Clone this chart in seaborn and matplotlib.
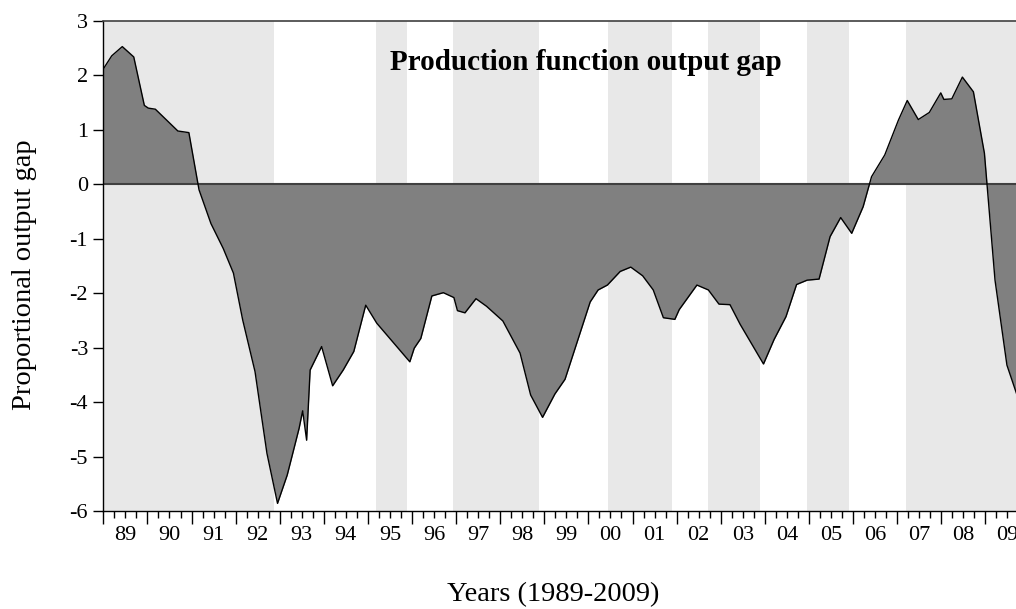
import matplotlib
matplotlib.use("Agg")
import matplotlib.pyplot as plt
import seaborn as sns
import pandas as pd
from matplotlib.ticker import MultipleLocator, FuncFormatter

# Output gap (decimal year, proportional gap)
dates = [1989.00, 1989.19, 1989.43, 1989.69, 1989.93, 1990.02, 1990.18, 1990.69,
         1990.94, 1991.17, 1991.44, 1991.72, 1991.95, 1992.16, 1992.44, 1992.71,
         1992.95, 1993.17, 1993.44, 1993.52, 1993.61, 1993.69, 1993.95, 1994.20,
         1994.44, 1994.68, 1994.95, 1995.20, 1995.95, 1996.05, 1996.20, 1996.45,
         1996.71, 1996.95, 1997.03, 1997.20, 1997.45, 1997.69, 1998.06, 1998.45,
         1998.69, 1998.96, 1999.24, 1999.47, 2000.04, 2000.22, 2000.43, 2000.72,
         2000.96, 2001.23, 2001.47, 2001.70, 2001.96, 2002.06, 2002.46, 2002.72,
         2002.96, 2003.21, 2003.44, 2003.97, 2004.21, 2004.48, 2004.72, 2004.96,
         2005.23, 2005.48, 2005.72, 2005.97, 2006.23, 2006.42, 2006.72, 2007.03,
         2007.23, 2007.48, 2007.73, 2007.99, 2008.06, 2008.24, 2008.48, 2008.73,
         2008.98, 2009.22, 2009.49, 2009.74]
gap = [2.12, 2.36, 2.53, 2.34, 1.45, 1.40, 1.38, 0.98,
       0.95, -0.10, -0.72, -1.18, -1.63, -2.49, -3.44, -4.94,
       -5.86, -5.34, -4.48, -4.16, -4.70, -3.41, -2.98, -3.70,
       -3.41, -3.07, -2.22, -2.55, -3.26, -3.01, -2.83, -2.05,
       -1.99, -2.08, -2.32, -2.36, -2.10, -2.24, -2.51, -3.10,
       -3.87, -4.28, -3.85, -3.58, -2.16, -1.94, -1.85, -1.60,
       -1.52, -1.68, -1.94, -2.45, -2.48, -2.30, -1.85, -1.94,
       -2.20, -2.21, -2.57, -3.30, -2.85, -2.43, -1.84, -1.76,
       -1.74, -0.96, -0.61, -0.90, -0.41, 0.14, 0.54, 1.18,
       1.54, 1.19, 1.32, 1.68, 1.56, 1.57, 1.97, 1.70,
       0.57, -1.76, -3.32, -3.92]

# shaded periods (start, end)
band_start = [1989.00, 1995.18, 1996.94, 2000.44, 2002.71, 2004.96, 2007.21]
band_end = [1992.87, 1995.88, 1998.88, 2001.89, 2003.89, 2005.91, 2011.00]

years = list(range(1989, 2010))
year_labels = ["89", "90", "91", "92", "93", "94", "95", "96", "97", "98", "99",
               "00", "01", "02", "03", "04", "05", "06", "07", "08", "09"]
yticks = [3, 2, 1, 0, -1, -2, -3, -4, -5, -6]

df = pd.DataFrame({"date": dates, "gap": gap})

sns.set_style("white")
plt.rcParams["font.family"] = ["Liberation Serif", "DejaVu Serif"]
plt.rcParams["text.color"] = "black"
plt.rcParams["axes.labelcolor"] = "black"
plt.rcParams["xtick.color"] = "black"
plt.rcParams["ytick.color"] = "black"

fig = plt.figure(figsize=(10.16, 6.09), dpi=100)
ax = fig.add_axes([0.1017, 0.1609, 0.9115, 0.8046])

for s, e in zip(band_start, band_end):
    ax.axvspan(s, e, color="#e8e8e8", lw=0, zorder=0)

ax.fill_between(df["date"], df["gap"], 0, color="#808080", lw=0, zorder=1)
sns.lineplot(data=df, x="date", y="gap", color="black", lw=1.0, ax=ax, zorder=3)
ax.axhline(0, color="#404040", lw=1.5, zorder=2)

ax.set_xlim(1989, 2010)
ax.set_ylim(-6, 3)
ax.set_yticks(yticks)
ax.set_yticklabels([str(v) for v in yticks])

ax.set_xticks(years + [2010])
ax.xaxis.set_major_formatter(FuncFormatter(lambda x, p: ""))
ax.xaxis.set_minor_locator(MultipleLocator(0.25))


def minor_label(x, pos):
    i = int(x) - 1989
    if abs(x - int(x) - 0.5) < 1e-6 and 0 <= i < len(year_labels):
        return year_labels[i]
    return ""


ax.xaxis.set_minor_formatter(FuncFormatter(minor_label))
ax.tick_params(axis="x", which="major", direction="out", length=9, width=1, bottom=True, labelsize=16)
ax.tick_params(axis="x", which="minor", direction="out", length=5, width=1, bottom=True,
               labelsize=16, pad=6)
ax.tick_params(axis="y", which="major", direction="out", length=7, width=1, left=True,
               labelsize=16, pad=4)

for side in ["left", "bottom"]:
    ax.spines[side].set_color("black")
    ax.spines[side].set_linewidth(1)
ax.spines["top"].set_color("#404040")
ax.spines["top"].set_linewidth(1.2)
ax.spines["right"].set_visible(False)

ax.text(0.5215, 0.90, "Production function output gap", transform=ax.transAxes,
        ha="center", va="baseline", fontsize=21, fontweight="bold", color="black")

ax.set_xlabel("Years (1989-2009)", fontsize=20.5)
ax.xaxis.set_label_coords(0.4856, -0.145)
ax.set_ylabel("Proportional output gap", fontsize=20.5)
ax.yaxis.set_label_coords(-0.072, 0.482)

fig.savefig("out.png", dpi=100)
plt.close(fig)
